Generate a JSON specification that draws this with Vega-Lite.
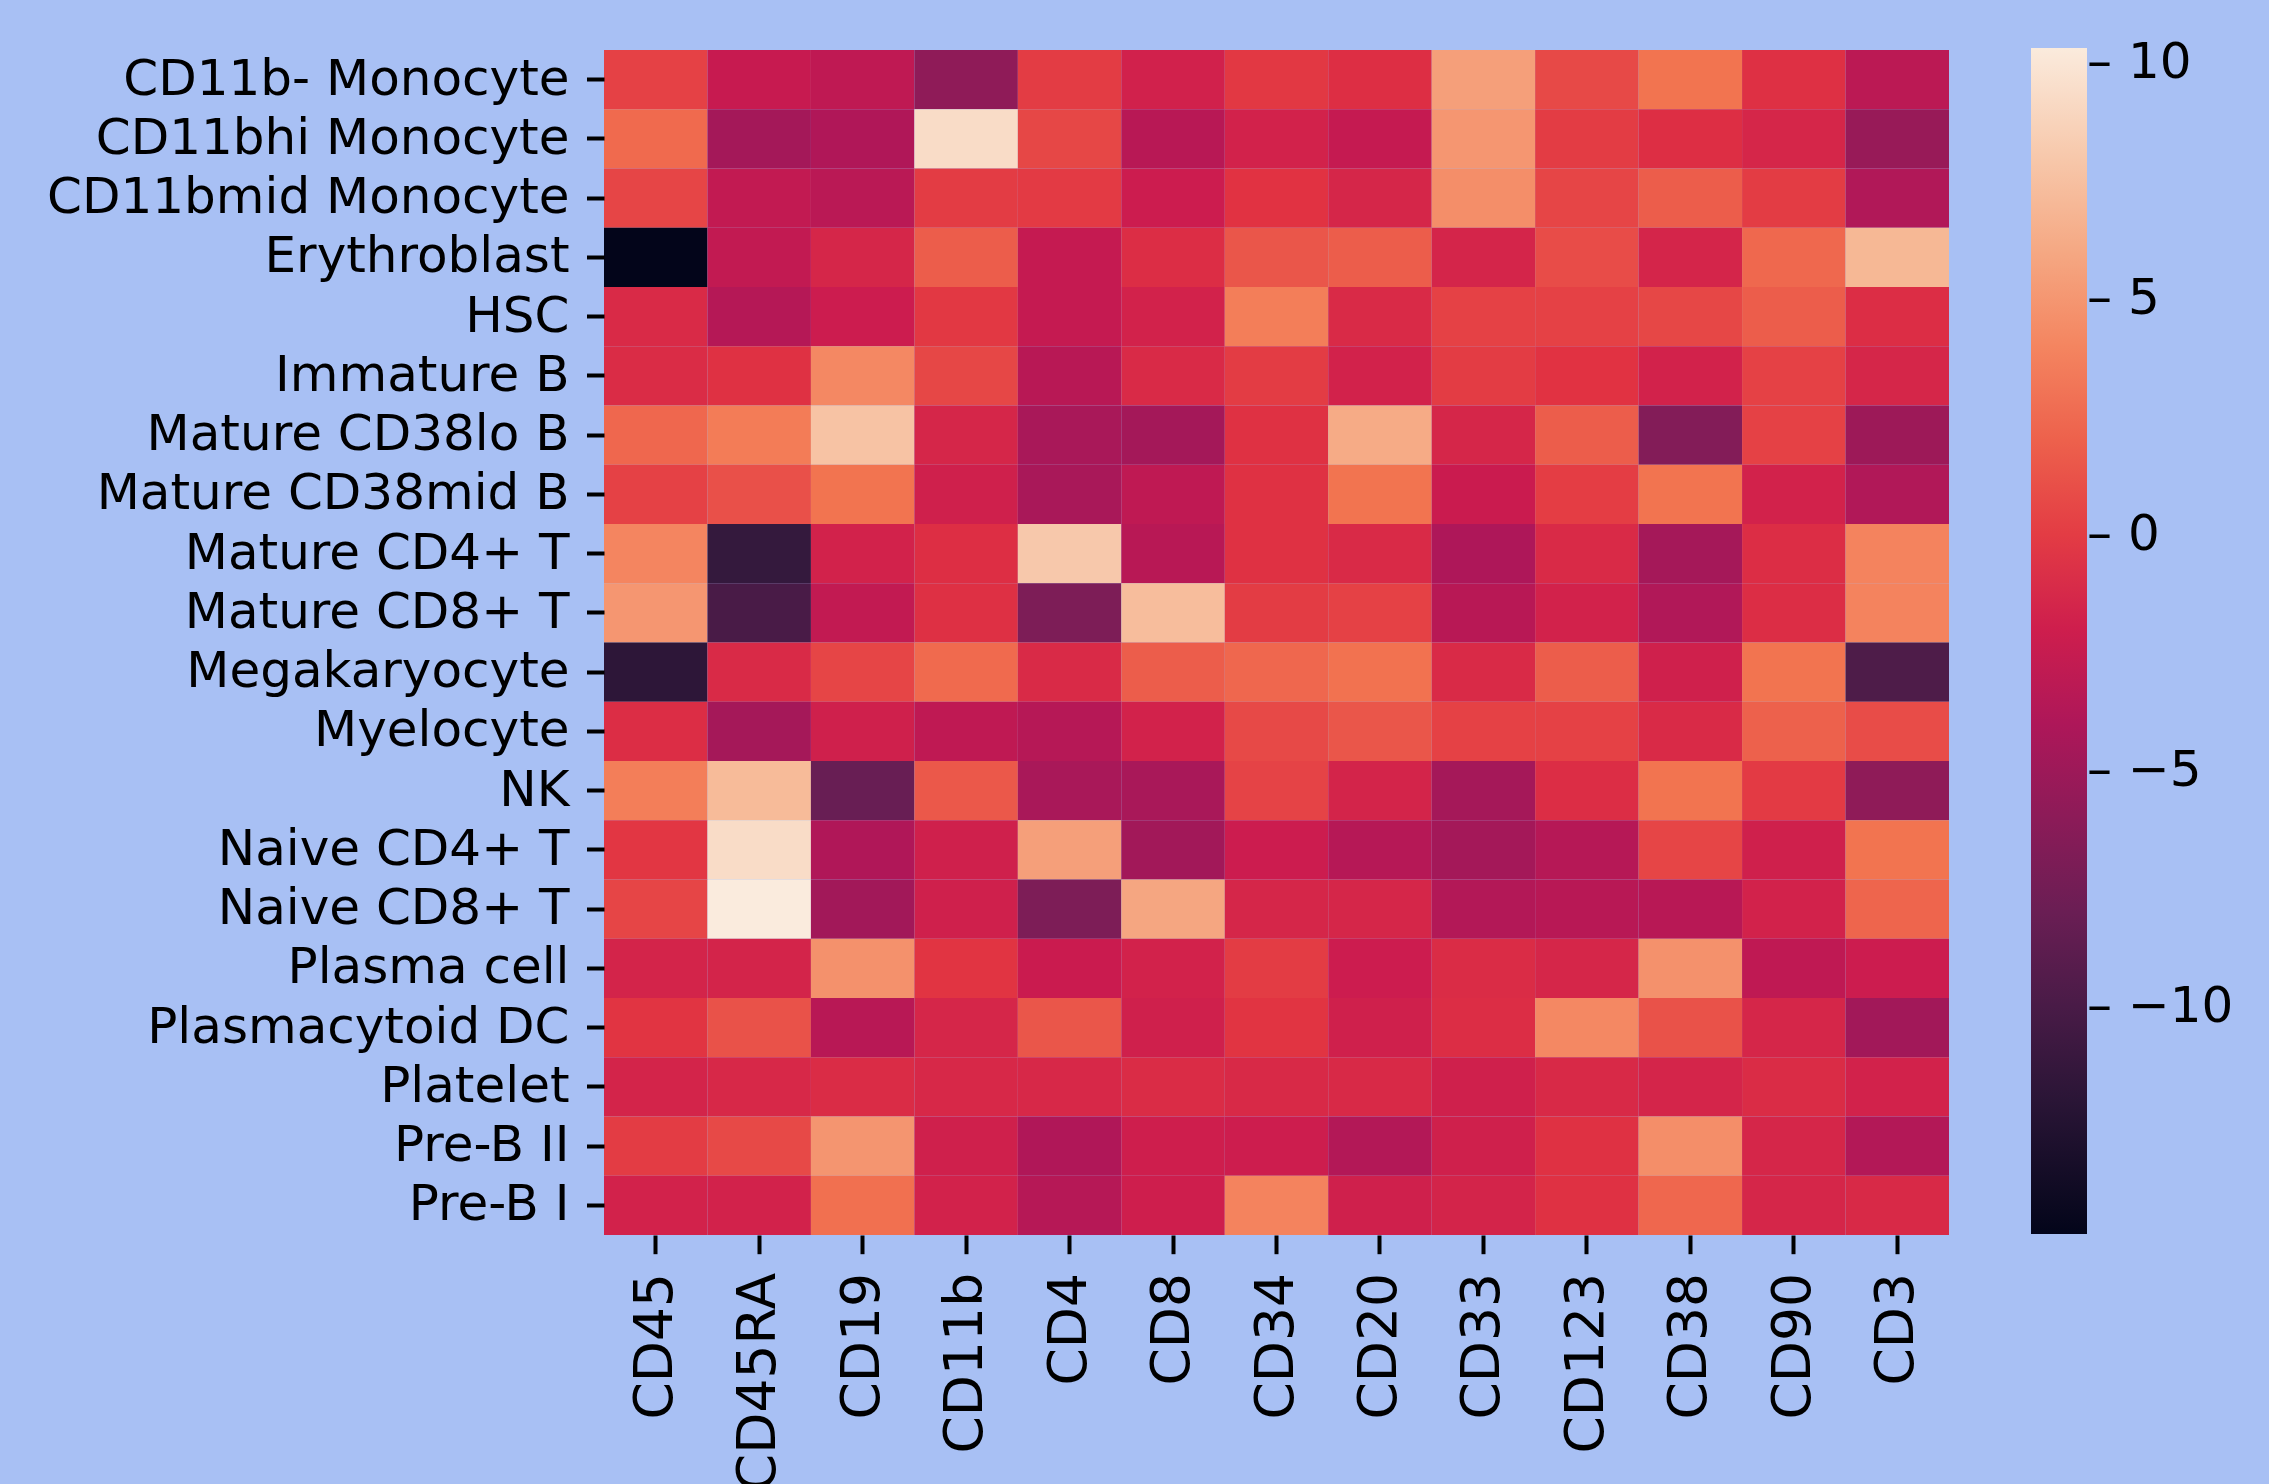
{
  "$schema": "https://vega.github.io/schema/vega-lite/v6.json",
  "autosize": {"type": "none"},
  "padding": {"left": 604, "top": 50, "right": 320, "bottom": 249},
  "width": 1345,
  "height": 1185,
  "background": "#a8c0f4",
  "config": {
    "view": {"stroke": null},
    "font": "DejaVu Sans",
    "axis": {
      "labelFont": "DejaVu Sans",
      "labelFontSize": 50,
      "labelColor": "black",
      "tickColor": "black",
      "tickSize": 17.5,
      "tickWidth": 4,
      "labelPadding": 17.5,
      "domain": false,
      "grid": false,
      "title": null,
      "labelLimit": 2000,
      "labelOverlap": false,
      "labelBound": false
    }
  },
  "data": {
    "values": [
      {"cell": "CD11b- Monocyte", "CD45": 0.3, "CD45RA": -2.5, "CD19": -3.0, "CD11b": -5.8, "CD4": 0.0, "CD8": -1.8, "CD34": -0.2, "CD20": -0.8, "CD33": 5.5, "CD123": 0.7, "CD38": 3.0, "CD90": -0.7, "CD3": -3.2},
      {"cell": "CD11bhi Monocyte", "CD45": 2.5, "CD45RA": -4.6, "CD19": -3.9, "CD11b": 9.3, "CD4": 0.6, "CD8": -3.4, "CD34": -1.7, "CD20": -2.6, "CD33": 5.0, "CD123": 0.0, "CD38": -0.8, "CD90": -1.4, "CD3": -5.3},
      {"cell": "CD11bmid Monocyte", "CD45": 0.5, "CD45RA": -2.8, "CD19": -3.3, "CD11b": 0.0, "CD4": -0.1, "CD8": -2.2, "CD34": -0.5, "CD20": -1.4, "CD33": 4.5, "CD123": 0.5, "CD38": 1.8, "CD90": 0.0, "CD3": -3.8},
      {"cell": "Erythroblast", "CD45": -14.82, "CD45RA": -2.8, "CD19": -1.4, "CD11b": 1.8, "CD4": -2.6, "CD8": -0.9, "CD34": 1.4, "CD20": 1.8, "CD33": -1.5, "CD123": 0.9, "CD38": -1.5, "CD90": 2.4, "CD3": 7.0},
      {"cell": "HSC", "CD45": -1.1, "CD45RA": -3.6, "CD19": -2.2, "CD11b": -0.2, "CD4": -2.6, "CD8": -1.7, "CD34": 3.6, "CD20": -1.1, "CD33": 0.3, "CD123": 0.3, "CD38": 0.6, "CD90": 1.8, "CD3": -0.9},
      {"cell": "Immature B", "CD45": -1.0, "CD45RA": -0.6, "CD19": 4.2, "CD11b": 0.6, "CD4": -3.4, "CD8": -1.1, "CD34": 0.0, "CD20": -1.7, "CD33": 0.0, "CD123": -0.5, "CD38": -1.7, "CD90": 0.3, "CD3": -1.4},
      {"cell": "Mature CD38lo B", "CD45": 2.3, "CD45RA": 3.5, "CD19": 7.7, "CD11b": -1.4, "CD4": -4.3, "CD8": -4.6, "CD34": -0.6, "CD20": 6.2, "CD33": -1.4, "CD123": 1.8, "CD38": -6.5, "CD90": 0.3, "CD3": -5.0},
      {"cell": "Mature CD38mid B", "CD45": 0.3, "CD45RA": 1.1, "CD19": 3.0, "CD11b": -1.9, "CD4": -4.3, "CD8": -3.0, "CD34": -0.6, "CD20": 3.0, "CD33": -2.3, "CD123": 0.1, "CD38": 3.0, "CD90": -1.7, "CD3": -3.8},
      {"cell": "Mature CD4+ T", "CD45": 4.0, "CD45RA": -11.3, "CD19": -1.7, "CD11b": -0.8, "CD4": 8.0, "CD8": -3.4, "CD34": -0.6, "CD20": -1.1, "CD33": -4.0, "CD123": -1.1, "CD38": -4.5, "CD90": -0.9, "CD3": 3.9},
      {"cell": "Mature CD8+ T", "CD45": 5.0, "CD45RA": -10.0, "CD19": -2.8, "CD11b": -0.7, "CD4": -6.9, "CD8": 7.3, "CD34": 0.0, "CD20": 0.3, "CD33": -3.4, "CD123": -1.7, "CD38": -3.8, "CD90": -0.9, "CD3": 3.9},
      {"cell": "Megakaryocyte", "CD45": -11.8, "CD45RA": -1.1, "CD19": 0.5, "CD11b": 2.5, "CD4": -1.1, "CD8": 1.8, "CD34": 2.3, "CD20": 2.9, "CD33": -1.1, "CD123": 1.8, "CD38": -1.9, "CD90": 3.0, "CD3": -9.7},
      {"cell": "Myelocyte", "CD45": -0.9, "CD45RA": -4.5, "CD19": -1.9, "CD11b": -3.0, "CD4": -3.5, "CD8": -1.7, "CD34": 0.7, "CD20": 1.4, "CD33": 0.3, "CD123": 0.3, "CD38": -1.1, "CD90": 2.0, "CD3": 0.9},
      {"cell": "NK", "CD45": 3.6, "CD45RA": 7.2, "CD19": -8.1, "CD11b": 1.5, "CD4": -4.3, "CD8": -4.3, "CD34": 0.4, "CD20": -1.6, "CD33": -4.5, "CD123": -0.9, "CD38": 3.0, "CD90": -0.1, "CD3": -5.8},
      {"cell": "Naive CD4+ T", "CD45": -0.3, "CD45RA": 9.3, "CD19": -3.9, "CD11b": -1.9, "CD4": 5.5, "CD8": -4.7, "CD34": -2.2, "CD20": -3.5, "CD33": -4.6, "CD123": -3.5, "CD38": 0.5, "CD90": -1.9, "CD3": 3.0},
      {"cell": "Naive CD8+ T", "CD45": 0.5, "CD45RA": 10.31, "CD19": -4.7, "CD11b": -1.9, "CD4": -6.9, "CD8": 5.9, "CD34": -1.4, "CD20": -1.4, "CD33": -3.7, "CD123": -3.4, "CD38": -3.4, "CD90": -1.7, "CD3": 2.2},
      {"cell": "Plasma cell", "CD45": -1.6, "CD45RA": -1.6, "CD19": 4.7, "CD11b": -0.4, "CD4": -2.3, "CD8": -1.7, "CD34": 0.0, "CD20": -2.2, "CD33": -1.0, "CD123": -1.4, "CD38": 4.7, "CD90": -3.0, "CD3": -2.2},
      {"cell": "Plasmacytoid DC", "CD45": -0.4, "CD45RA": 1.2, "CD19": -3.4, "CD11b": -1.4, "CD4": 1.4, "CD8": -1.9, "CD34": -0.4, "CD20": -1.9, "CD33": -0.9, "CD123": 4.2, "CD38": 1.2, "CD90": -1.4, "CD3": -4.7},
      {"cell": "Platelet", "CD45": -1.6, "CD45RA": -1.3, "CD19": -1.0, "CD11b": -1.3, "CD4": -1.3, "CD8": -1.0, "CD34": -1.2, "CD20": -1.2, "CD33": -1.9, "CD123": -1.2, "CD38": -1.5, "CD90": -1.0, "CD3": -1.7},
      {"cell": "Pre-B II", "CD45": 0.0, "CD45RA": 0.7, "CD19": 4.9, "CD11b": -1.9, "CD4": -3.9, "CD8": -2.0, "CD34": -2.1, "CD20": -3.7, "CD33": -1.9, "CD123": -0.6, "CD38": 4.5, "CD90": -1.4, "CD3": -3.7},
      {"cell": "Pre-B I", "CD45": -1.7, "CD45RA": -1.7, "CD19": 2.8, "CD11b": -1.7, "CD4": -3.5, "CD8": -2.0, "CD34": 3.9, "CD20": -1.9, "CD33": -1.6, "CD123": -0.6, "CD38": 2.3, "CD90": -1.4, "CD3": -1.2}
    ]
  },
  "transform": [
    {"fold": ["CD45", "CD45RA", "CD19", "CD11b", "CD4", "CD8", "CD34", "CD20", "CD33", "CD123", "CD38", "CD90", "CD3"], "as": ["marker", "value"]}
  ],
  "mark": {"type": "rect", "strokeWidth": 0},
  "encoding": {
    "x": {
      "field": "marker", "type": "nominal",
      "sort": ["CD45", "CD45RA", "CD19", "CD11b", "CD4", "CD8", "CD34", "CD20", "CD33", "CD123", "CD38", "CD90", "CD3"],
      "scale": {"paddingInner": 0, "paddingOuter": 0},
      "axis": {"orient": "bottom", "labelAngle": 270, "labelAlign": "right", "labelBaseline": "middle", "labelFontSize": 53.5, "tickSize": 18.7, "labelPadding": 18.7}
    },
    "y": {
      "field": "cell", "type": "nominal",
      "sort": ["CD11b- Monocyte", "CD11bhi Monocyte", "CD11bmid Monocyte", "Erythroblast", "HSC", "Immature B", "Mature CD38lo B", "Mature CD38mid B", "Mature CD4+ T", "Mature CD8+ T", "Megakaryocyte", "Myelocyte", "NK", "Naive CD4+ T", "Naive CD8+ T", "Plasma cell", "Plasmacytoid DC", "Platelet", "Pre-B II", "Pre-B I"],
      "scale": {"paddingInner": 0, "paddingOuter": 0},
      "axis": {"orient": "left"}
    },
    "color": {
      "field": "value", "type": "quantitative",
      "scale": {
        "type": "linear",
        "domain": [-14.82, -11.23, -7.64, -4.05, -2.255, -0.46, 3.13, 6.72, 10.31],
        "range": ["#03051a", "#35193e", "#701f57", "#ad1759", "#cb1b4f", "#e13342", "#f37651", "#f6b48f", "#faebdd"],
        "interpolate": "rgb",
        "clamp": true
      },
      "legend": {
        "title": null,
        "orient": "none",
        "legendX": 1427,
        "legendY": -2,
        "padding": 0,
        "direction": "vertical",
        "gradientLength": 1186,
        "gradientThickness": 56,
        "gradientStrokeWidth": 0,
        "values": [-10, -5, 0, 5, 10],
        "labelFont": "DejaVu Sans",
        "labelFontSize": 50,
        "labelColor": "black",
        "labelOffset": 0,
        "labelOverlap": false,
        "labelLimit": 500,
        "labelExpr": "'– ' + replace(datum.label, '-', '−')"
      }
    }
  }
}
